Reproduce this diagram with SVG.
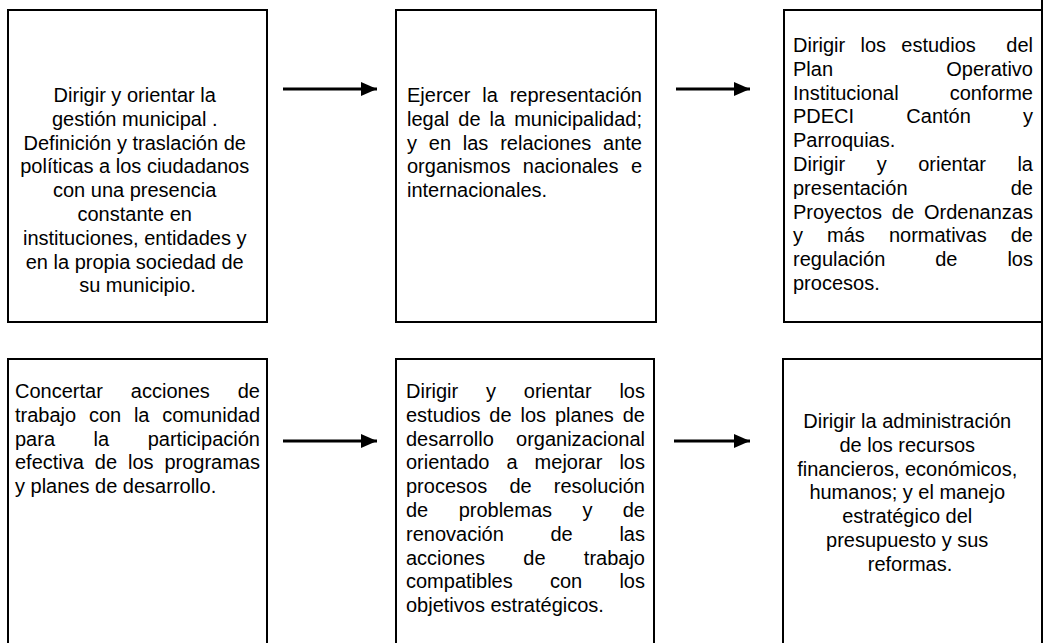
<svg xmlns="http://www.w3.org/2000/svg" width="1044" height="643" viewBox="0 0 1044 643">
<style>
.box{fill:#fff;stroke:#000;stroke-width:2}
.t{font-family:"Liberation Sans",Arial,sans-serif;font-size:20px;fill:#000}
.c{text-anchor:middle}
.e{text-anchor:end}
.conn{stroke:#000;stroke-width:3;fill:none}
</style>
<defs>
<marker id="ah" viewBox="0 0 16 14" refX="16" refY="7" markerWidth="16" markerHeight="14" markerUnits="userSpaceOnUse" orient="auto">
<path d="M0,0 L16,7 L0,14 Z" fill="#000"/>
</marker>
</defs>
<rect width="1044" height="643" fill="#fff"/>
<line x1="1042" y1="0" x2="1042" y2="643" stroke="#000" stroke-width="2"/>

<g id="node1">
<rect class="box" x="8" y="10" width="259" height="312"/>
<text class="t c" x="137.5">
<tspan x="137.5" y="102">Dirigir y orientar la</tspan>
<tspan x="137.5" y="125.8">gestión municipal .</tspan>
<tspan x="137.5" y="149.6">Definición y traslación de</tspan>
<tspan x="137.5" y="173.4">políticas a los ciudadanos</tspan>
<tspan x="137.5" y="197.2">con una presencia</tspan>
<tspan x="137.5" y="221">constante en</tspan>
<tspan x="137.5" y="244.8">instituciones, entidades y</tspan>
<tspan x="137.5" y="268.6">en la propia sociedad de</tspan>
<tspan x="137.5" y="292.4">su municipio.</tspan>
</text>
</g>

<g id="node2">
<rect class="box" x="396" y="10" width="260" height="312"/>
<text class="t" y="102"><tspan x="407">Ejercer</tspan><tspan x="482.25">la</tspan></text>
<text class="t e" x="642" y="102">representación</text>
<text class="t" y="125.8"><tspan x="407">legal</tspan><tspan x="458.29">de</tspan><tspan x="489.58">la</tspan></text>
<text class="t e" x="642" y="125.8">municipalidad;</text>
<text class="t" y="149.6"><tspan x="407">y</tspan><tspan x="428.79">en</tspan><tspan x="462.81">las</tspan><tspan x="500.16">relaciones</tspan></text>
<text class="t e" x="642" y="149.6">ante</text>
<text class="t" y="173.4"><tspan x="407">organismos</tspan><tspan x="522.82">nacionales</tspan></text>
<text class="t e" x="642" y="173.4">e</text>
<text class="t" x="407" y="197.2">internacionales.</text>
</g>

<g id="node3">
<rect class="box" x="784" y="10" width="258" height="312"/>
<text class="t" y="52"><tspan x="793">Dirigir</tspan><tspan x="860.47">los</tspan><tspan x="901.3">estudios</tspan></text>
<text class="t e" x="1033" y="52">del</text>
<text class="t" x="793" y="75.8">Plan</text>
<text class="t e" x="1033" y="75.8">Operativo</text>
<text class="t" x="793" y="99.6">Institucional</text>
<text class="t e" x="1033" y="99.6">conforme</text>
<text class="t" y="123.4"><tspan x="793">PDECI</tspan><tspan x="906.32">Cantón</tspan></text>
<text class="t e" x="1033" y="123.4">y</text>
<text class="t" x="793" y="147.2">Parroquias.</text>
<text class="t" y="171"><tspan x="793">Dirigir</tspan><tspan x="876.68">y</tspan><tspan x="918.16">orientar</tspan></text>
<text class="t e" x="1033" y="171">la</text>
<text class="t" x="793" y="194.8">presentación</text>
<text class="t e" x="1033" y="194.8">de</text>
<text class="t" y="218.6"><tspan x="793">Proyectos</tspan><tspan x="891.87">de</tspan></text>
<text class="t e" x="1033" y="218.6">Ordenanzas</text>
<text class="t" y="242.4"><tspan x="793">y</tspan><tspan x="827.06">más</tspan><tspan x="888.9">normativas</tspan></text>
<text class="t e" x="1033" y="242.4">de</text>
<text class="t" y="266.2"><tspan x="793">regulación</tspan><tspan x="935.23">de</tspan></text>
<text class="t e" x="1033" y="266.2">los</text>
<text class="t" x="793" y="290">procesos.</text>
</g>

<g id="node4">
<rect class="box" x="8" y="359" width="259" height="300"/>
<text class="t" y="398"><tspan x="15">Concertar</tspan><tspan x="130.82">acciones</tspan></text>
<text class="t e" x="260" y="398">de</text>
<text class="t" y="421.8"><tspan x="15">trabajo</tspan><tspan x="88.89">con</tspan><tspan x="133.88">la</tspan></text>
<text class="t e" x="260" y="421.8">comunidad</text>
<text class="t" y="445.6"><tspan x="15">para</tspan><tspan x="93.6">la</tspan></text>
<text class="t e" x="260" y="445.6">participación</text>
<text class="t" y="469.4"><tspan x="15">efectiva</tspan><tspan x="94.82">de</tspan><tspan x="127.96">los</tspan></text>
<text class="t e" x="260" y="469.4">programas</text>
<text class="t" x="15" y="493.2">y planes de desarrollo.</text>
</g>

<g id="node5">
<rect class="box" x="396" y="359" width="258" height="300"/>
<text class="t" y="398"><tspan x="406">Dirigir</tspan><tspan x="486.01">y</tspan><tspan x="523.82">orientar</tspan></text>
<text class="t e" x="645" y="398">los</text>
<text class="t" y="421.8"><tspan x="406">estudios</tspan><tspan x="489.37">de</tspan><tspan x="520.5">los</tspan><tspan x="554.95">planes</tspan></text>
<text class="t e" x="645" y="421.8">de</text>
<text class="t" x="406" y="445.6">desarrollo</text>
<text class="t e" x="645" y="445.6">organizacional</text>
<text class="t" y="469.4"><tspan x="406">orientado</tspan><tspan x="506.43">a</tspan><tspan x="534.6">mejorar</tspan></text>
<text class="t e" x="645" y="469.4">los</text>
<text class="t" y="493.2"><tspan x="406">procesos</tspan><tspan x="509.38">de</tspan></text>
<text class="t e" x="645" y="493.2">resolución</text>
<text class="t" y="517"><tspan x="406">de</tspan><tspan x="458.63">problemas</tspan><tspan x="582.38">y</tspan></text>
<text class="t e" x="645" y="517">de</text>
<text class="t" y="540.8"><tspan x="406">renovación</tspan><tspan x="550.51">de</tspan></text>
<text class="t e" x="645" y="540.8">las</text>
<text class="t" y="564.6"><tspan x="406">acciones</tspan><tspan x="523.27">de</tspan></text>
<text class="t e" x="645" y="564.6">trabajo</text>
<text class="t" y="588.4"><tspan x="406">compatibles</tspan><tspan x="549.95">con</tspan></text>
<text class="t e" x="645" y="588.4">los</text>
<text class="t" x="406" y="612.2">objetivos estratégicos.</text>
</g>

<g id="node6">
<rect class="box" x="783" y="359" width="259" height="300"/>
<text class="t c" x="910">
<tspan x="910" y="428">Dirigir la administración</tspan>
<tspan x="910" y="451.8">de los recursos</tspan>
<tspan x="910" y="475.6">financieros, económicos,</tspan>
<tspan x="910" y="499.4">humanos; y el manejo</tspan>
<tspan x="910" y="523.2">estratégico del</tspan>
<tspan x="910" y="547">presupuesto y sus</tspan>
<tspan x="910" y="570.8">reformas.</tspan>
</text>
</g>

<g id="connectors">
<line class="conn" x1="283" y1="89" x2="377" y2="89" marker-end="url(#ah)"/>
<line class="conn" x1="676" y1="89" x2="750" y2="89" marker-end="url(#ah)"/>
<line class="conn" x1="283" y1="441" x2="377" y2="441" marker-end="url(#ah)"/>
<line class="conn" x1="674" y1="441" x2="750" y2="441" marker-end="url(#ah)"/>
</g>
</svg>
